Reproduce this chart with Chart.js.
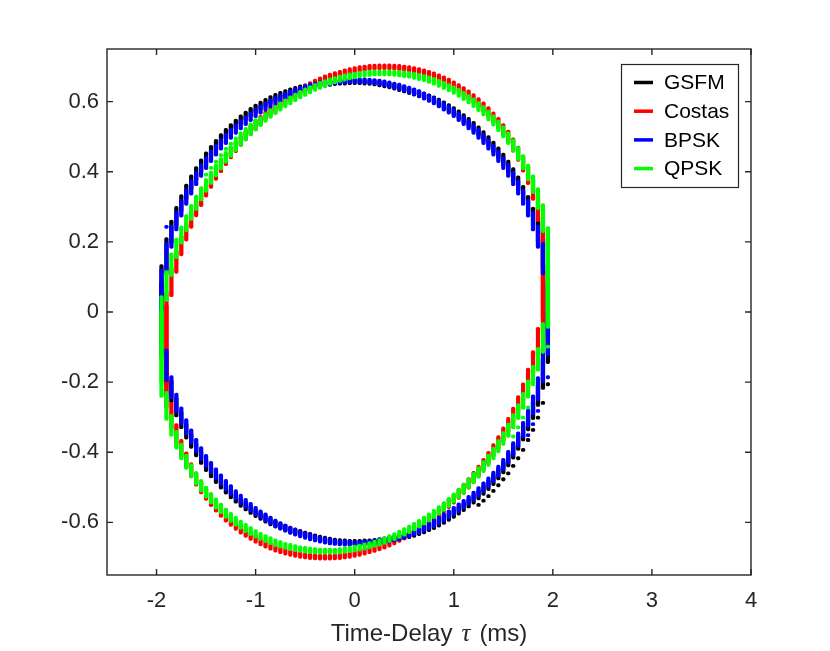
<!DOCTYPE html>
<html>
<head>
<meta charset="utf-8">
<title>Ambiguity contour</title>
<script src="https://cdn.jsdelivr.net/npm/chart.js@4.4.1/dist/chart.umd.min.js"></script>
<style>
  html, body { margin: 0; padding: 0; background: #fff; }
  #wrap { width: 830px; height: 651px; }
</style>
</head>
<body>
<div id="wrap"><canvas id="contourChart" width="830" height="651"></canvas></div>
<script>
// Delay columns (ms) shared by all waveforms
const xs = [
  -1.95, -1.90, -1.85, -1.80, -1.75, -1.70, -1.65, -1.60, -1.55, -1.50,
  -1.45, -1.40, -1.35, -1.30, -1.25, -1.20, -1.15, -1.10, -1.05, -1.00,
  -0.95, -0.90, -0.85, -0.80, -0.75, -0.70, -0.65, -0.60, -0.55, -0.50,
  -0.45, -0.40, -0.35, -0.30, -0.25, -0.20, -0.15, -0.10, -0.05, 0.00,
  0.05, 0.10, 0.15, 0.20, 0.25, 0.30, 0.35, 0.40, 0.45, 0.50,
  0.55, 0.60, 0.65, 0.70, 0.75, 0.80, 0.85, 0.90, 0.95, 1.00,
  1.05, 1.10, 1.15, 1.20, 1.25, 1.30, 1.35, 1.40, 1.45, 1.50,
  1.55, 1.60, 1.65, 1.70, 1.75, 1.80, 1.85, 1.90, 1.95
];

const xTicks = [-2, -1, 0, 1, 2, 3, 4];
const yTicks = [-0.6, -0.4, -0.2, 0, 0.2, 0.4, 0.6];

const seriesNames = ['GSFM', 'Costas', 'BPSK', 'QPSK'];
const seriesColors = ['#000000', '#ff0000', '#0000ff', '#00ff00'];

// GSFM
const gsfmUpper = [
  0.078, 0.175, 0.232, 0.275, 0.311, 0.342, 0.370, 0.395, 0.418, 0.439,
  0.458, 0.476, 0.492, 0.508, 0.522, 0.536, 0.548, 0.559, 0.570, 0.580,
  0.589, 0.597, 0.605, 0.612, 0.618, 0.623, 0.629, 0.633, 0.637, 0.641,
  0.644, 0.647, 0.649, 0.651, 0.653, 0.655, 0.655, 0.656, 0.657, 0.657,
  0.657, 0.656, 0.655, 0.654, 0.652, 0.649, 0.646, 0.643, 0.639, 0.635,
  0.631, 0.626, 0.622, 0.616, 0.611, 0.605, 0.598, 0.590, 0.582, 0.573,
  0.563, 0.552, 0.541, 0.529, 0.516, 0.502, 0.487, 0.471, 0.454, 0.435,
  0.414, 0.392, 0.367, 0.339, 0.309, 0.273, 0.232, 0.177, 0.080
];
const gsfmLower = [
  -0.078, -0.174, -0.230, -0.273, -0.309, -0.340, -0.368, -0.393, -0.416, -0.437,
  -0.456, -0.473, -0.489, -0.504, -0.518, -0.531, -0.543, -0.554, -0.564, -0.574,
  -0.582, -0.590, -0.598, -0.605, -0.611, -0.616, -0.622, -0.626, -0.631, -0.635,
  -0.639, -0.643, -0.646, -0.649, -0.652, -0.654, -0.655, -0.656, -0.657, -0.657,
  -0.657, -0.656, -0.655, -0.655, -0.653, -0.651, -0.648, -0.646, -0.643, -0.640,
  -0.636, -0.632, -0.627, -0.621, -0.615, -0.609, -0.601, -0.593, -0.584, -0.576,
  -0.566, -0.556, -0.545, -0.534, -0.521, -0.508, -0.494, -0.479, -0.462, -0.444,
  -0.423, -0.399, -0.373, -0.346, -0.315, -0.282, -0.240, -0.185, -0.093
];
const gsfmDotX = [1.25, 1.30, 1.35, 1.40, 1.45, 1.50, 1.55, 1.60, 1.65, 1.70, 1.75, 1.80, 1.85, 1.90, 1.95];
const gsfmDotY = [-0.550, -0.538, -0.525, -0.510, -0.494, -0.477, -0.460, -0.439, -0.417, -0.393, -0.365, -0.336, -0.301, -0.259, -0.206];

// Costas
const costasUpper = [
  null, 0.013, 0.091, 0.146, 0.191, 0.230, 0.264, 0.295, 0.323, 0.349,
  0.373, 0.395, 0.416, 0.436, 0.454, 0.472, 0.489, 0.504, 0.519, 0.533,
  0.546, 0.559, 0.571, 0.582, 0.593, 0.603, 0.613, 0.622, 0.630, 0.638,
  0.645, 0.652, 0.659, 0.665, 0.670, 0.675, 0.679, 0.683, 0.687, 0.690,
  0.693, 0.695, 0.697, 0.698, 0.699, 0.699, 0.699, 0.698, 0.697, 0.695,
  0.693, 0.690, 0.687, 0.683, 0.679, 0.674, 0.668, 0.662, 0.655, 0.647,
  0.639, 0.630, 0.620, 0.609, 0.597, 0.584, 0.570, 0.555, 0.538, 0.520,
  0.500, 0.477, 0.452, 0.424, 0.391, 0.352, 0.302, 0.230, null
];
const costasLower = [
  null, -0.230, -0.302, -0.352, -0.391, -0.424, -0.452, -0.477, -0.500, -0.520,
  -0.538, -0.555, -0.570, -0.584, -0.597, -0.609, -0.620, -0.630, -0.639, -0.647,
  -0.655, -0.662, -0.668, -0.674, -0.679, -0.683, -0.687, -0.690, -0.693, -0.695,
  -0.697, -0.698, -0.699, -0.699, -0.699, -0.698, -0.697, -0.695, -0.693, -0.690,
  -0.687, -0.683, -0.679, -0.675, -0.670, -0.665, -0.659, -0.652, -0.645, -0.638,
  -0.630, -0.622, -0.613, -0.603, -0.593, -0.582, -0.571, -0.559, -0.546, -0.533,
  -0.519, -0.504, -0.489, -0.472, -0.454, -0.436, -0.416, -0.395, -0.373, -0.349,
  -0.323, -0.295, -0.264, -0.230, -0.191, -0.146, -0.091, -0.013, null
];
const costasDotX = [];
const costasDotY = [];

// BPSK
const bpskUpper = [
  0.067, 0.162, 0.218, 0.261, 0.297, 0.328, 0.356, 0.381, 0.404, 0.425,
  0.444, 0.462, 0.478, 0.494, 0.508, 0.522, 0.534, 0.546, 0.557, 0.568,
  0.577, 0.586, 0.595, 0.603, 0.610, 0.616, 0.623, 0.628, 0.633, 0.638,
  0.642, 0.646, 0.649, 0.652, 0.655, 0.657, 0.658, 0.659, 0.660, 0.660,
  0.660, 0.659, 0.658, 0.657, 0.655, 0.652, 0.649, 0.646, 0.642, 0.638,
  0.633, 0.628, 0.623, 0.616, 0.610, 0.603, 0.595, 0.586, 0.577, 0.568,
  0.557, 0.546, 0.534, 0.522, 0.508, 0.494, 0.478, 0.462, 0.444, 0.425,
  0.404, 0.381, 0.356, 0.328, 0.297, 0.261, 0.218, 0.162, 0.067
];
const bpskLower = [
  -0.067, -0.162, -0.218, -0.261, -0.297, -0.328, -0.356, -0.381, -0.404, -0.425,
  -0.444, -0.462, -0.478, -0.494, -0.508, -0.522, -0.534, -0.546, -0.557, -0.568,
  -0.577, -0.586, -0.595, -0.603, -0.610, -0.616, -0.623, -0.628, -0.633, -0.638,
  -0.642, -0.646, -0.649, -0.652, -0.655, -0.657, -0.658, -0.659, -0.660, -0.660,
  -0.660, -0.659, -0.658, -0.657, -0.655, -0.652, -0.649, -0.646, -0.642, -0.638,
  -0.633, -0.628, -0.623, -0.616, -0.610, -0.603, -0.595, -0.586, -0.577, -0.568,
  -0.558, -0.548, -0.537, -0.526, -0.513, -0.500, -0.486, -0.471, -0.454, -0.436,
  -0.415, -0.391, -0.365, -0.336, -0.304, -0.267, -0.222, -0.164, -0.068
];
const bpskDotX = [-1.90, 1.75, 1.80, 1.85, 1.95];
const bpskDotY = [0.243, -0.351, -0.320, -0.282, -0.186];

// QPSK
const qpskUpper = [
  -0.004, 0.081, 0.138, 0.183, 0.221, 0.254, 0.285, 0.312, 0.338, 0.361,
  0.383, 0.404, 0.423, 0.441, 0.458, 0.474, 0.489, 0.504, 0.518, 0.531,
  0.543, 0.555, 0.566, 0.576, 0.586, 0.595, 0.604, 0.612, 0.620, 0.627,
  0.634, 0.641, 0.646, 0.652, 0.657, 0.661, 0.665, 0.669, 0.672, 0.675,
  0.677, 0.679, 0.681, 0.682, 0.682, 0.682, 0.682, 0.681, 0.680, 0.678,
  0.676, 0.674, 0.670, 0.667, 0.663, 0.658, 0.652, 0.646, 0.640, 0.633,
  0.625, 0.616, 0.607, 0.597, 0.586, 0.574, 0.561, 0.546, 0.531, 0.514,
  0.496, 0.475, 0.453, 0.428, 0.399, 0.366, 0.326, 0.275, 0.195
];
const qpskLower = [
  -0.195, -0.275, -0.326, -0.366, -0.399, -0.428, -0.453, -0.475, -0.496, -0.514,
  -0.531, -0.546, -0.561, -0.574, -0.586, -0.597, -0.607, -0.616, -0.625, -0.633,
  -0.640, -0.646, -0.652, -0.658, -0.663, -0.667, -0.670, -0.674, -0.676, -0.678,
  -0.680, -0.681, -0.682, -0.682, -0.682, -0.682, -0.681, -0.679, -0.677, -0.675,
  -0.672, -0.669, -0.665, -0.661, -0.657, -0.652, -0.646, -0.641, -0.634, -0.627,
  -0.620, -0.612, -0.604, -0.595, -0.586, -0.576, -0.566, -0.555, -0.543, -0.531,
  -0.518, -0.504, -0.489, -0.474, -0.458, -0.441, -0.423, -0.404, -0.383, -0.361,
  -0.338, -0.312, -0.285, -0.254, -0.221, -0.183, -0.138, -0.081, 0.004
];
const qpskDotX = [-1.50, -1.45, -1.40, -1.35, -1.30, -1.25, -1.20, -1.15, -1.10, -1.05, -1.00, 1.60, 1.65, 1.70, 1.75, 1.95];
const qpskDotY = [0.392, 0.411, 0.429, 0.447, 0.465, 0.480, 0.495, 0.509, 0.522, 0.535, 0.547, -0.355, -0.329, -0.301, -0.272, -0.099];

const arcs = [
  [gsfmUpper, gsfmLower, gsfmDotX, gsfmDotY],
  [costasUpper, costasLower, costasDotX, costasDotY],
  [bpskUpper, bpskLower, bpskDotX, bpskDotY],
  [qpskUpper, qpskLower, qpskDotX, qpskDotY]
];

const CAP = 0.0085;   // dash overhang (data units)
const DOT = 0.0045;

// each column's dash spans the curve between the half-way points to its neighbours
function toDashes(arc, other) {
  const out = [];
  arc.forEach((y, i) => {
    if (y === null) return;
    let lo = y, hi = y;
    [arc[i - 1], arc[i + 1]].forEach(n => {
      const m = (n === null || n === undefined) ? other[i] : (y + n) / 2;
      lo = Math.min(lo, m);
      hi = Math.max(hi, m);
    });
    out.push({ x: xs[i], y: [lo - CAP, hi + CAP] });
  });
  return out;
}

function toDots(dx, dy) {
  return dx.map((x, i) => ({ x: x, y: [dy[i] - DOT, dy[i] + DOT] }));
}

const datasets = [];
arcs.forEach(([upper, lower, dx, dy], k) => {
  const base = {
    backgroundColor: seriesColors[k],
    borderWidth: 0,
    borderRadius: 1.7,
    borderSkipped: false,
    barThickness: 3.6,
    grouped: false,
    order: arcs.length - k
  };
  datasets.push(Object.assign({ label: seriesNames[k], data: toDashes(upper, lower) }, base));
  datasets.push(Object.assign({ label: seriesNames[k] + ' low', data: toDashes(lower, upper) }, base));
  if (dx.length) datasets.push(Object.assign({ label: seriesNames[k] + ' dots', data: toDots(dx, dy) }, base));
});

const axisColor = '#262626';
const tickFont = { family: "'Liberation Sans', Arial, Helvetica, sans-serif", size: 22 };

// MATLAB style frame, inward ticks, legend and x label
const framePlugin = {
  id: 'frame',
  afterDraw(chart) {
    const { ctx, chartArea: a, scales: { x, y } } = chart;
    const t = 6;
    ctx.save();
    ctx.strokeStyle = axisColor;
    ctx.lineWidth = 1.4;
    ctx.strokeRect(a.left, a.top, a.right - a.left, a.bottom - a.top);
    ctx.beginPath();
    xTicks.forEach(v => {
      const px = x.getPixelForValue(v);
      ctx.moveTo(px, a.bottom); ctx.lineTo(px, a.bottom - t);
      ctx.moveTo(px, a.top); ctx.lineTo(px, a.top + t);
    });
    yTicks.forEach(v => {
      const py = y.getPixelForValue(v);
      ctx.moveTo(a.left, py); ctx.lineTo(a.left + t, py);
      ctx.moveTo(a.right, py); ctx.lineTo(a.right - t, py);
    });
    ctx.stroke();

    // legend
    const lx = 621, ly = 64, lw = 117, lh = 123;
    ctx.fillStyle = '#fff';
    ctx.fillRect(lx, ly, lw, lh);
    ctx.lineWidth = 1.2;
    ctx.strokeRect(lx + 0.5, ly + 0.5, lw, lh);
    ctx.font = "21px 'Liberation Sans', Arial, sans-serif";
    ctx.textBaseline = 'middle';
    ctx.textAlign = 'left';
    seriesNames.forEach((name, i) => {
      const ry = ly + 18.5 + i * 28.7;
      ctx.strokeStyle = seriesColors[i];
      ctx.lineWidth = 3.5;
      ctx.beginPath();
      ctx.moveTo(lx + 13, ry); ctx.lineTo(lx + 32, ry);
      ctx.stroke();
      ctx.fillStyle = '#000';
      ctx.fillText(name, lx + 43, ry + 1);
    });

    // x label with italic tau
    const parts = [
      { text: 'Time-Delay', font: "24px 'Liberation Sans', Arial, sans-serif", gap: 9 },
      { text: '\u03C4', font: "italic 25px 'Liberation Serif', 'Times New Roman', serif", gap: 9 },
      { text: '(ms)', font: "24px 'Liberation Sans', Arial, sans-serif", gap: 0 }
    ];
    let total = 0;
    parts.forEach(p => { ctx.font = p.font; p.w = ctx.measureText(p.text).width; total += p.w + p.gap; });
    let cx = (a.left + a.right) / 2 - total / 2;
    ctx.fillStyle = axisColor;
    ctx.textBaseline = 'alphabetic';
    parts.forEach(p => {
      ctx.font = p.font;
      ctx.fillText(p.text, cx, 641);
      cx += p.w + p.gap;
    });
    ctx.restore();
  }
};

new Chart(document.getElementById('contourChart').getContext('2d'), {
  type: 'bar',
  data: { datasets: datasets },
  options: {
    responsive: false,
    animation: false,
    events: [],
    layout: { padding: { left: 0, right: 79, top: 49, bottom: 0 } },
    plugins: { legend: { display: false }, tooltip: { enabled: false } },
    scales: {
      x: {
        type: 'linear',
        min: -2.5,
        max: 4,
        offset: false,
        grid: { display: false, drawTicks: false },
        border: { display: false },
        ticks: { color: axisColor, font: tickFont, padding: 13, maxRotation: 0, callback: v => String(v) },
        afterBuildTicks: s => { s.ticks = xTicks.map(v => ({ value: v })); },
        afterFit: s => { s.height = 76; }
      },
      y: {
        type: 'linear',
        min: -0.75,
        max: 0.75,
        grid: { display: false, drawTicks: false },
        border: { display: false },
        ticks: { color: axisColor, font: tickFont, padding: 8, callback: v => String(v) },
        afterBuildTicks: s => { s.ticks = yTicks.map(v => ({ value: v })); },
        afterFit: s => { s.width = 107; }
      }
    }
  },
  plugins: [framePlugin]
});
</script>
</body>
</html>
